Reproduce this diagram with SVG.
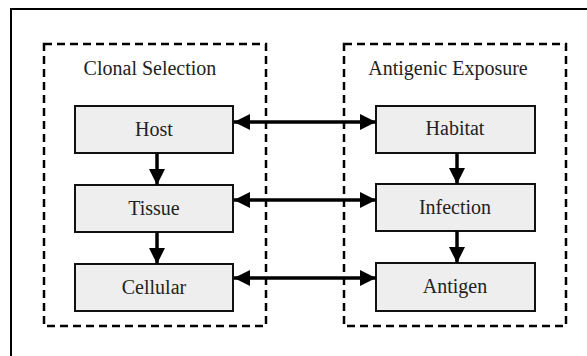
<svg xmlns="http://www.w3.org/2000/svg" width="587" height="356" viewBox="0 0 587 356">
<style>
.frame{fill:none;stroke:#000;stroke-width:2}
.group{fill:none;stroke:#000;stroke-width:2.5;stroke-dasharray:8 5}
.box{fill:#eeeeee;stroke:#111;stroke-width:2}
.conn{stroke:#000;stroke-width:3.5;fill:none}
</style>
<defs>
<marker id="ah" markerUnits="userSpaceOnUse" markerWidth="17" markerHeight="16" refX="16" refY="8" orient="auto-start-reverse">
<path d="M0,0 L16,8 L0,16 Z" fill="#000"/>
</marker>
</defs>
<rect width="587" height="356" fill="#fff"/>
<path class="frame" d="M11,360 L11,9 L590,9"/>
<g font-family="'Liberation Serif', 'Times New Roman', Times, serif" font-size="20" fill="#222" text-anchor="middle">
<g id="clonal-selection">
<rect class="group" x="44" y="44" width="222" height="282"/>
<text x="150" y="75">Clonal Selection</text>
</g>
<g id="antigenic-exposure">
<rect class="group" x="344" y="44" width="222" height="282"/>
<text x="448" y="75">Antigenic Exposure</text>
</g>
<g id="host"><rect class="box" x="75" y="106" width="158" height="47"/><text x="154" y="136">Host</text></g>
<g id="tissue"><rect class="box" x="75" y="185" width="158" height="47"/><text x="154" y="215">Tissue</text></g>
<g id="cellular"><rect class="box" x="75" y="264" width="158" height="47"/><text x="154" y="294">Cellular</text></g>
<g id="habitat"><rect class="box" x="376" y="106" width="159" height="47"/><text x="455" y="135">Habitat</text></g>
<g id="infection"><rect class="box" x="376" y="184" width="159" height="47"/><text x="455" y="214">Infection</text></g>
<g id="antigen"><rect class="box" x="376" y="263" width="159" height="48"/><text x="455" y="293">Antigen</text></g>
</g>
<g id="connectors">
<line class="conn" x1="234" y1="122" x2="376" y2="122" marker-start="url(#ah)" marker-end="url(#ah)"/>
<line class="conn" x1="234" y1="200" x2="376" y2="200" marker-start="url(#ah)" marker-end="url(#ah)"/>
<line class="conn" x1="234" y1="278" x2="376" y2="278" marker-start="url(#ah)" marker-end="url(#ah)"/>
<line class="conn" x1="157" y1="153" x2="157" y2="185" marker-end="url(#ah)"/>
<line class="conn" x1="157" y1="232" x2="157" y2="264" marker-end="url(#ah)"/>
<line class="conn" x1="457" y1="153" x2="457" y2="184" marker-end="url(#ah)"/>
<line class="conn" x1="457" y1="231" x2="457" y2="263" marker-end="url(#ah)"/>
</g>
</svg>
